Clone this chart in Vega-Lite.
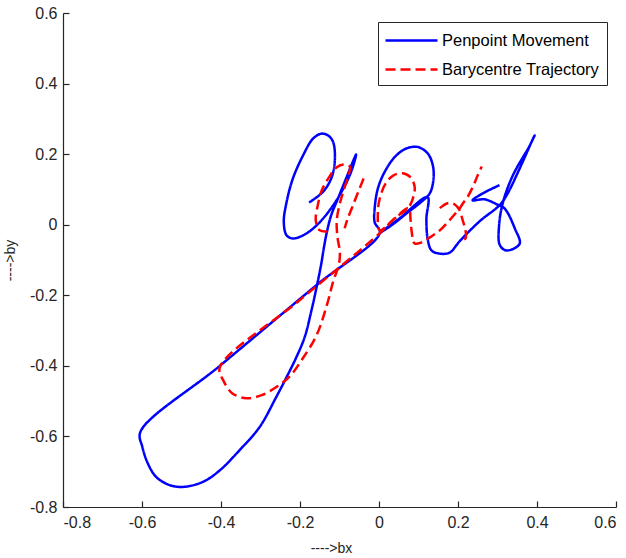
{
  "$schema": "https://vega.github.io/schema/vega-lite/v6.json",
  "width": 553,
  "height": 494,
  "autosize": {"type": "none"},
  "padding": {"left": 63, "top": 13, "right": 10, "bottom": 51},
  "background": "white",
  "config": {
    "view": {"stroke": null},
    "font": "Liberation Sans",
    "axis": {
      "grid": false,
      "domainColor": "#262626",
      "tickColor": "#262626",
      "labelColor": "#262626",
      "titleColor": "#262626",
      "labelFont": "Liberation Sans",
      "titleFont": "Liberation Sans",
      "labelFontSize": 16,
      "titleFontSize": 14,
      "titleFontWeight": "normal",
      "domainWidth": 1.2,
      "tickWidth": 1.2,
      "tickSize": -6
    },
    "legend": {
      "labelFont": "Liberation Sans",
      "labelFontSize": 16.5,
      "labelColor": "#000000"
    }
  },
  "data": {
    "values": [
      {"series": "Penpoint Movement", "seg": 0, "ord": 1, "bx": -0.177, "by": 0.063},
      {"series": "Penpoint Movement", "seg": 0, "ord": 2, "bx": -0.142, "by": 0.093},
      {"series": "Penpoint Movement", "seg": 0, "ord": 3, "bx": -0.121, "by": 0.131},
      {"series": "Penpoint Movement", "seg": 0, "ord": 4, "bx": -0.112, "by": 0.178},
      {"series": "Penpoint Movement", "seg": 0, "ord": 5, "bx": -0.116, "by": 0.234},
      {"series": "Penpoint Movement", "seg": 0, "ord": 6, "bx": -0.129, "by": 0.253},
      {"series": "Penpoint Movement", "seg": 0, "ord": 7, "bx": -0.146, "by": 0.258},
      {"series": "Penpoint Movement", "seg": 0, "ord": 8, "bx": -0.167, "by": 0.244},
      {"series": "Penpoint Movement", "seg": 0, "ord": 9, "bx": -0.192, "by": 0.197},
      {"series": "Penpoint Movement", "seg": 0, "ord": 10, "bx": -0.218, "by": 0.131},
      {"series": "Penpoint Movement", "seg": 0, "ord": 11, "bx": -0.234, "by": 0.064},
      {"series": "Penpoint Movement", "seg": 0, "ord": 12, "bx": -0.241, "by": 0.008},
      {"series": "Penpoint Movement", "seg": 0, "ord": 13, "bx": -0.234, "by": -0.030},
      {"series": "Penpoint Movement", "seg": 0, "ord": 14, "bx": -0.218, "by": -0.039},
      {"series": "Penpoint Movement", "seg": 0, "ord": 15, "bx": -0.192, "by": -0.030},
      {"series": "Penpoint Movement", "seg": 0, "ord": 16, "bx": -0.167, "by": -0.011},
      {"series": "Penpoint Movement", "seg": 0, "ord": 17, "bx": -0.142, "by": 0.017},
      {"series": "Penpoint Movement", "seg": 0, "ord": 18, "bx": -0.116, "by": 0.055},
      {"series": "Penpoint Movement", "seg": 0, "ord": 19, "bx": -0.095, "by": 0.093},
      {"series": "Penpoint Movement", "seg": 0, "ord": 20, "bx": -0.074, "by": 0.140},
      {"series": "Penpoint Movement", "seg": 0, "ord": 21, "bx": -0.059, "by": 0.192},
      {"series": "Penpoint Movement", "seg": 0, "ord": 22, "bx": -0.058, "by": 0.199},
      {"series": "Penpoint Movement", "seg": 0, "ord": 23, "bx": -0.062, "by": 0.190},
      {"series": "Penpoint Movement", "seg": 0, "ord": 24, "bx": -0.070, "by": 0.168},
      {"series": "Penpoint Movement", "seg": 0, "ord": 25, "bx": -0.087, "by": 0.121},
      {"series": "Penpoint Movement", "seg": 0, "ord": 26, "bx": -0.104, "by": 0.074},
      {"series": "Penpoint Movement", "seg": 0, "ord": 27, "bx": -0.121, "by": 0.027},
      {"series": "Penpoint Movement", "seg": 0, "ord": 28, "bx": -0.132, "by": -0.021},
      {"series": "Penpoint Movement", "seg": 0, "ord": 29, "bx": -0.140, "by": -0.068},
      {"series": "Penpoint Movement", "seg": 0, "ord": 30, "bx": -0.146, "by": -0.110},
      {"series": "Penpoint Movement", "seg": 0, "ord": 31, "bx": -0.158, "by": -0.177},
      {"series": "Penpoint Movement", "seg": 0, "ord": 32, "bx": -0.171, "by": -0.243},
      {"series": "Penpoint Movement", "seg": 0, "ord": 33, "bx": -0.188, "by": -0.318},
      {"series": "Penpoint Movement", "seg": 0, "ord": 34, "bx": -0.209, "by": -0.375},
      {"series": "Penpoint Movement", "seg": 0, "ord": 35, "bx": -0.234, "by": -0.432},
      {"series": "Penpoint Movement", "seg": 0, "ord": 36, "bx": -0.260, "by": -0.488},
      {"series": "Penpoint Movement", "seg": 0, "ord": 37, "bx": -0.302, "by": -0.573},
      {"series": "Penpoint Movement", "seg": 0, "ord": 38, "bx": -0.353, "by": -0.639},
      {"series": "Penpoint Movement", "seg": 0, "ord": 39, "bx": -0.403, "by": -0.696},
      {"series": "Penpoint Movement", "seg": 0, "ord": 40, "bx": -0.446, "by": -0.729},
      {"series": "Penpoint Movement", "seg": 0, "ord": 41, "bx": -0.496, "by": -0.743},
      {"series": "Penpoint Movement", "seg": 0, "ord": 42, "bx": -0.530, "by": -0.738},
      {"series": "Penpoint Movement", "seg": 0, "ord": 43, "bx": -0.564, "by": -0.715},
      {"series": "Penpoint Movement", "seg": 0, "ord": 44, "bx": -0.585, "by": -0.677},
      {"series": "Penpoint Movement", "seg": 0, "ord": 45, "bx": -0.599, "by": -0.630},
      {"series": "Penpoint Movement", "seg": 0, "ord": 46, "bx": -0.604, "by": -0.587},
      {"series": "Penpoint Movement", "seg": 0, "ord": 47, "bx": -0.403, "by": -0.400},
      {"series": "Penpoint Movement", "seg": 0, "ord": 48, "bx": -0.158, "by": -0.171},
      {"series": "Penpoint Movement", "seg": 0, "ord": 49, "bx": 0.002, "by": -0.023},
      {"series": "Penpoint Movement", "seg": 0, "ord": 50, "bx": -0.011, "by": 0.007},
      {"series": "Penpoint Movement", "seg": 0, "ord": 51, "bx": -0.011, "by": 0.046},
      {"series": "Penpoint Movement", "seg": 0, "ord": 52, "bx": -0.003, "by": 0.102},
      {"series": "Penpoint Movement", "seg": 0, "ord": 53, "bx": 0.014, "by": 0.149},
      {"series": "Penpoint Movement", "seg": 0, "ord": 54, "bx": 0.040, "by": 0.192},
      {"series": "Penpoint Movement", "seg": 0, "ord": 55, "bx": 0.069, "by": 0.216},
      {"series": "Penpoint Movement", "seg": 0, "ord": 56, "bx": 0.099, "by": 0.220},
      {"series": "Penpoint Movement", "seg": 0, "ord": 57, "bx": 0.124, "by": 0.201},
      {"series": "Penpoint Movement", "seg": 0, "ord": 58, "bx": 0.137, "by": 0.164},
      {"series": "Penpoint Movement", "seg": 0, "ord": 59, "bx": 0.137, "by": 0.121},
      {"series": "Penpoint Movement", "seg": 0, "ord": 60, "bx": 0.128, "by": 0.088},
      {"series": "Penpoint Movement", "seg": 0, "ord": 61, "bx": 0.103, "by": 0.061},
      {"series": "Penpoint Movement", "seg": 0, "ord": 62, "bx": 0.073, "by": 0.035},
      {"series": "Penpoint Movement", "seg": 0, "ord": 63, "bx": 0.035, "by": 0.001},
      {"series": "Penpoint Movement", "seg": 0, "ord": 64, "bx": 0.004, "by": -0.022},
      {"series": "Penpoint Movement", "seg": 0, "ord": 65, "bx": 0.052, "by": 0.018},
      {"series": "Penpoint Movement", "seg": 0, "ord": 66, "bx": 0.123, "by": 0.078},
      {"series": "Penpoint Movement", "seg": 0, "ord": 67, "bx": 0.120, "by": 0.017},
      {"series": "Penpoint Movement", "seg": 0, "ord": 68, "bx": 0.123, "by": -0.039},
      {"series": "Penpoint Movement", "seg": 0, "ord": 69, "bx": 0.133, "by": -0.073},
      {"series": "Penpoint Movement", "seg": 0, "ord": 70, "bx": 0.154, "by": -0.082},
      {"series": "Penpoint Movement", "seg": 0, "ord": 71, "bx": 0.179, "by": -0.079},
      {"series": "Penpoint Movement", "seg": 0, "ord": 72, "bx": 0.204, "by": -0.047},
      {"series": "Penpoint Movement", "seg": 0, "ord": 73, "bx": 0.255, "by": 0.010},
      {"series": "Penpoint Movement", "seg": 0, "ord": 74, "bx": 0.305, "by": 0.055},
      {"series": "Penpoint Movement", "seg": 0, "ord": 75, "bx": 0.323, "by": 0.083},
      {"series": "Penpoint Movement", "seg": 0, "ord": 76, "bx": 0.356, "by": 0.159},
      {"series": "Penpoint Movement", "seg": 0, "ord": 77, "bx": 0.390, "by": 0.244},
      {"series": "Penpoint Movement", "seg": 0, "ord": 78, "bx": 0.394, "by": 0.253},
      {"series": "Penpoint Movement", "seg": 0, "ord": 79, "bx": 0.382, "by": 0.225},
      {"series": "Penpoint Movement", "seg": 0, "ord": 80, "bx": 0.339, "by": 0.140},
      {"series": "Penpoint Movement", "seg": 0, "ord": 81, "bx": 0.314, "by": 0.064},
      {"series": "Penpoint Movement", "seg": 0, "ord": 82, "bx": 0.304, "by": -0.002},
      {"series": "Penpoint Movement", "seg": 0, "ord": 83, "bx": 0.306, "by": -0.058},
      {"series": "Penpoint Movement", "seg": 0, "ord": 84, "bx": 0.323, "by": -0.073},
      {"series": "Penpoint Movement", "seg": 0, "ord": 85, "bx": 0.356, "by": -0.054},
      {"series": "Penpoint Movement", "seg": 0, "ord": 86, "bx": 0.344, "by": -0.011},
      {"series": "Penpoint Movement", "seg": 0, "ord": 87, "bx": 0.318, "by": 0.046},
      {"series": "Penpoint Movement", "seg": 0, "ord": 88, "bx": 0.298, "by": 0.058},
      {"series": "Penpoint Movement", "seg": 0, "ord": 89, "bx": 0.267, "by": 0.072},
      {"series": "Penpoint Movement", "seg": 0, "ord": 90, "bx": 0.237, "by": 0.069},
      {"series": "Penpoint Movement", "seg": 0, "ord": 91, "bx": 0.263, "by": 0.089},
      {"series": "Penpoint Movement", "seg": 0, "ord": 92, "bx": 0.305, "by": 0.112},

      {"series": "Barycentre Trajectory", "seg": 1, "ord": 1, "bx": -0.130, "by": -0.019},
      {"series": "Barycentre Trajectory", "seg": 1, "ord": 2, "bx": -0.150, "by": -0.016},
      {"series": "Barycentre Trajectory", "seg": 1, "ord": 3, "bx": -0.160, "by": 0.012},
      {"series": "Barycentre Trajectory", "seg": 1, "ord": 4, "bx": -0.155, "by": 0.055},
      {"series": "Barycentre Trajectory", "seg": 1, "ord": 5, "bx": -0.145, "by": 0.097},
      {"series": "Barycentre Trajectory", "seg": 1, "ord": 6, "bx": -0.125, "by": 0.137},
      {"series": "Barycentre Trajectory", "seg": 1, "ord": 7, "bx": -0.107, "by": 0.163},
      {"series": "Barycentre Trajectory", "seg": 1, "ord": 8, "bx": -0.089, "by": 0.171},
      {"series": "Barycentre Trajectory", "seg": 1, "ord": 9, "bx": -0.074, "by": 0.165},
      {"series": "Barycentre Trajectory", "seg": 1, "ord": 10, "bx": -0.077, "by": 0.140},
      {"series": "Barycentre Trajectory", "seg": 1, "ord": 11, "bx": -0.087, "by": 0.106},
      {"series": "Barycentre Trajectory", "seg": 1, "ord": 12, "bx": -0.099, "by": 0.061},
      {"series": "Barycentre Trajectory", "seg": 1, "ord": 13, "bx": -0.107, "by": 0.012},
      {"series": "Barycentre Trajectory", "seg": 1, "ord": 14, "bx": -0.105, "by": -0.036},
      {"series": "Barycentre Trajectory", "seg": 1, "ord": 15, "bx": -0.099, "by": -0.078},
      {"series": "Barycentre Trajectory", "seg": 1, "ord": 16, "bx": -0.102, "by": -0.115},
      {"series": "Barycentre Trajectory", "seg": 1, "ord": 17, "bx": -0.115, "by": -0.157},
      {"series": "Barycentre Trajectory", "seg": 1, "ord": 18, "bx": -0.132, "by": -0.228},
      {"series": "Barycentre Trajectory", "seg": 1, "ord": 19, "bx": -0.158, "by": -0.313},
      {"series": "Barycentre Trajectory", "seg": 1, "ord": 20, "bx": -0.196, "by": -0.384},
      {"series": "Barycentre Trajectory", "seg": 1, "ord": 21, "bx": -0.226, "by": -0.430},
      {"series": "Barycentre Trajectory", "seg": 1, "ord": 22, "bx": -0.257, "by": -0.458},
      {"series": "Barycentre Trajectory", "seg": 1, "ord": 23, "bx": -0.297, "by": -0.483},
      {"series": "Barycentre Trajectory", "seg": 1, "ord": 24, "bx": -0.335, "by": -0.492},
      {"series": "Barycentre Trajectory", "seg": 1, "ord": 25, "bx": -0.371, "by": -0.478},
      {"series": "Barycentre Trajectory", "seg": 1, "ord": 26, "bx": -0.393, "by": -0.444},
      {"series": "Barycentre Trajectory", "seg": 1, "ord": 27, "bx": -0.403, "by": -0.404},
      {"series": "Barycentre Trajectory", "seg": 1, "ord": 28, "bx": -0.201, "by": -0.214},
      {"series": "Barycentre Trajectory", "seg": 1, "ord": 29, "bx": 0.002, "by": -0.024},
      {"series": "Barycentre Trajectory", "seg": 1, "ord": 30, "bx": 0.039, "by": 0.018},
      {"series": "Barycentre Trajectory", "seg": 1, "ord": 31, "bx": 0.075, "by": 0.049},
      {"series": "Barycentre Trajectory", "seg": 1, "ord": 32, "bx": 0.088, "by": 0.083},
      {"series": "Barycentre Trajectory", "seg": 1, "ord": 33, "bx": 0.090, "by": 0.109},
      {"series": "Barycentre Trajectory", "seg": 1, "ord": 34, "bx": 0.080, "by": 0.134},
      {"series": "Barycentre Trajectory", "seg": 1, "ord": 35, "bx": 0.060, "by": 0.146},
      {"series": "Barycentre Trajectory", "seg": 1, "ord": 36, "bx": 0.037, "by": 0.140},
      {"series": "Barycentre Trajectory", "seg": 1, "ord": 37, "bx": 0.017, "by": 0.117},
      {"series": "Barycentre Trajectory", "seg": 1, "ord": 38, "bx": 0.002, "by": 0.075},
      {"series": "Barycentre Trajectory", "seg": 1, "ord": 39, "bx": -0.003, "by": 0.032},
      {"series": "Barycentre Trajectory", "seg": 1, "ord": 40, "bx": 0.002, "by": -0.016},
      {"series": "Barycentre Trajectory", "seg": 1, "ord": 41, "bx": 0.037, "by": 0.015},
      {"series": "Barycentre Trajectory", "seg": 1, "ord": 42, "bx": 0.075, "by": 0.047},
      {"series": "Barycentre Trajectory", "seg": 1, "ord": 43, "bx": 0.080, "by": 0.012},
      {"series": "Barycentre Trajectory", "seg": 1, "ord": 44, "bx": 0.083, "by": -0.022},
      {"series": "Barycentre Trajectory", "seg": 1, "ord": 45, "bx": 0.090, "by": -0.053},
      {"series": "Barycentre Trajectory", "seg": 1, "ord": 46, "bx": 0.108, "by": -0.050},
      {"series": "Barycentre Trajectory", "seg": 1, "ord": 47, "bx": 0.133, "by": -0.033},
      {"series": "Barycentre Trajectory", "seg": 1, "ord": 48, "bx": 0.154, "by": -0.016},
      {"series": "Barycentre Trajectory", "seg": 1, "ord": 49, "bx": 0.174, "by": 0.007},
      {"series": "Barycentre Trajectory", "seg": 1, "ord": 50, "bx": 0.191, "by": 0.029},
      {"series": "Barycentre Trajectory", "seg": 1, "ord": 51, "bx": 0.204, "by": 0.046},
      {"series": "Barycentre Trajectory", "seg": 1, "ord": 52, "bx": 0.214, "by": 0.063},
      {"series": "Barycentre Trajectory", "seg": 1, "ord": 53, "bx": 0.225, "by": 0.080},
      {"series": "Barycentre Trajectory", "seg": 1, "ord": 54, "bx": 0.237, "by": 0.106},
      {"series": "Barycentre Trajectory", "seg": 1, "ord": 55, "bx": 0.250, "by": 0.140},
      {"series": "Barycentre Trajectory", "seg": 1, "ord": 56, "bx": 0.260, "by": 0.165},

      {"series": "Barycentre Trajectory", "seg": 2, "ord": 1, "bx": -0.039, "by": 0.131},
      {"series": "Barycentre Trajectory", "seg": 2, "ord": 2, "bx": -0.049, "by": 0.103},
      {"series": "Barycentre Trajectory", "seg": 2, "ord": 3, "bx": -0.059, "by": 0.075},
      {"series": "Barycentre Trajectory", "seg": 2, "ord": 4, "bx": -0.069, "by": 0.046},
      {"series": "Barycentre Trajectory", "seg": 2, "ord": 5, "bx": -0.079, "by": 0.018},
      {"series": "Barycentre Trajectory", "seg": 2, "ord": 6, "bx": -0.087, "by": -0.010},

      {"series": "Barycentre Trajectory", "seg": 3, "ord": 1, "bx": 0.154, "by": 0.047},
      {"series": "Barycentre Trajectory", "seg": 3, "ord": 2, "bx": 0.174, "by": 0.061},
      {"series": "Barycentre Trajectory", "seg": 3, "ord": 3, "bx": 0.191, "by": 0.058},
      {"series": "Barycentre Trajectory", "seg": 3, "ord": 4, "bx": 0.204, "by": 0.041},
      {"series": "Barycentre Trajectory", "seg": 3, "ord": 5, "bx": 0.212, "by": 0.012},
      {"series": "Barycentre Trajectory", "seg": 3, "ord": 6, "bx": 0.219, "by": -0.016},
      {"series": "Barycentre Trajectory", "seg": 3, "ord": 7, "bx": 0.219, "by": -0.039},
      {"series": "Barycentre Trajectory", "seg": 3, "ord": 8, "bx": 0.204, "by": -0.044}
    ]
  },
  "encoding": {
    "x": {
      "field": "bx", "type": "quantitative",
      "scale": {"domain": [-0.8, 0.6], "nice": false, "zero": false},
      "axis": {
        "title": "---->bx",
        "values": [-0.8, -0.6, -0.4, -0.2, 0, 0.2, 0.4, 0.6],
        "labelExpr": "toString(round(datum.value * 10) / 10)",
        "labelPadding": 13,
        "titlePadding": 11,
        "titleX": 268
      }
    },
    "y": {
      "field": "by", "type": "quantitative",
      "scale": {"domain": [-0.8, 0.6], "nice": false, "zero": false},
      "axis": {
        "title": "---->by",
        "values": [-0.8, -0.6, -0.4, -0.2, 0, 0.2, 0.4, 0.6],
        "labelExpr": "toString(round(datum.value * 10) / 10)",
        "labelPadding": 12,
        "titlePadding": 12
      }
    },
    "order": {"field": "ord", "type": "quantitative"},
    "detail": {"field": "seg", "type": "nominal"},
    "color": {
      "field": "series", "type": "nominal",
      "scale": {"domain": ["Penpoint Movement", "Barycentre Trajectory"], "range": ["#0000ff", "#ff0000"]},
      "legend": {
        "title": null,
        "orient": "none",
        "legendX": 315,
        "legendY": 9,
        "symbolType": "M-1.1,0H4.1",
        "symbolSize": 400,
        "symbolStrokeWidth": 2.5,
        "strokeColor": "#262626",
        "fillColor": "white",
        "padding": 7,
        "rowPadding": 9,
        "labelOffset": 34
      }
    },
    "strokeDash": {
      "field": "series", "type": "nominal",
      "scale": {"domain": ["Penpoint Movement", "Barycentre Trajectory"], "range": [[1, 0], [10, 5]]},
      "legend": {
        "title": null,
        "orient": "none",
        "legendX": 315,
        "legendY": 9,
        "symbolType": "M-1.1,0H4.1",
        "symbolSize": 400,
        "symbolStrokeWidth": 2.5,
        "strokeColor": "#262626",
        "fillColor": "white",
        "padding": 7,
        "rowPadding": 9,
        "labelOffset": 34
      }
    }
  },
  "layer": [
    {
      "transform": [{"filter": "datum.series === 'Penpoint Movement'"}],
      "mark": {"type": "line", "strokeWidth": 2.5, "strokeJoin": "round", "interpolate": "catmull-rom"}
    },
    {
      "transform": [{"filter": "datum.series === 'Barycentre Trajectory'"}],
      "mark": {"type": "line", "strokeWidth": 2.5, "strokeJoin": "round", "interpolate": "catmull-rom"}
    }
  ]
}
